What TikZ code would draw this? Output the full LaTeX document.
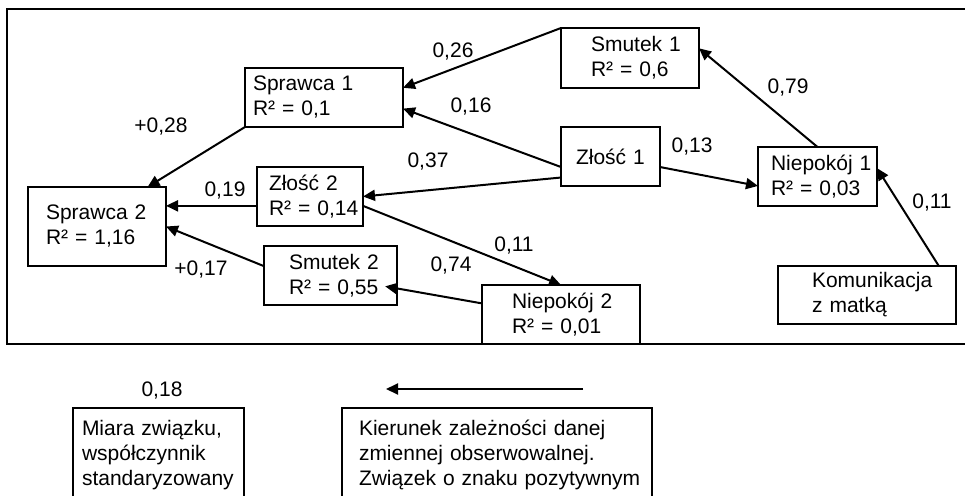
\documentclass[tikz,border=0pt]{standalone}
\usepackage{fontspec}
\setmainfont{Liberation Sans}
\usetikzlibrary{arrows.meta}

\begin{document}
\begin{tikzpicture}[x=1pt, y=-1pt, font=\fontsize{21}{25}\selectfont,
    box/.style={draw, line width=1.2pt, anchor=north west, align=left,
      inner ysep=0pt, outer sep=0pt,
      execute at begin node={\hyphenpenalty=10000\relax}},
    arr/.style={line width=2pt, -{Triangle[length=12pt,width=11pt]}},
    wt/.style={anchor=base, inner sep=0pt}]
        \useasboundingbox (0,0) rectangle (965,495);
        % frame
        \draw[line width=1.3pt] (966,9) -- (7,9) -- (7,344) -- (966,344);
        % variables
        \node [box, text width=142pt, inner xsep=8pt, minimum height=59pt] (spr1) at (245,68) {Sprawca 1\\R²~=~0,1};
        \node [box, text width=102pt, inner xsep=18pt, minimum height=79pt] (spr2) at (28,187) {Sprawca 2\\R²~=~1,16};
        \node [box, text width=82pt, inner xsep=12pt, minimum height=59pt] (zlo2) at (257,167) {Złość~2\\R²~=~0,14};
        \node [box, text width=83pt, inner xsep=25pt, minimum height=59pt] (smu2) at (264,246) {Smutek~2\\R²~=~0,55};
        \node [box, text width=78pt, inner xsep=30pt, minimum height=60pt] (smu1) at (561,28) {Smutek~1\\R²~=~0,6};
        \node [box, text width=69pt, inner xsep=15pt, minimum height=59pt] (zlo1) at (561,127) {Złość~1};
        \node [box, text width=93pt, inner xsep=13pt, minimum height=59pt] (nie1) at (758,147) {Niepokój~1\\R²~=~0,03};
        \node [box, text width=98pt, inner xsep=30pt, minimum height=59pt] (nie2) at (482,285) {Niepokój~2\\R²~=~0,01};
        \node [box, text width=110pt, inner xsep=34pt, minimum height=58pt] (kom) at (778,266) {Komunikacja\\z~matką};
        % paths
        \draw[arr] (smu1.north west) -- (spr1.7);
        \draw[arr] (zlo1.192) -- (spr1.-8);
        \draw[arr] (zlo1.203) -- (zlo2.east);
        \draw[arr] (zlo1.-12) -- (nie1.189);
        \draw[arr] (nie1.north) -- (smu1.8);
        \draw[arr] (kom.22) -- (nie1.8);
        \draw[arr] (zlo2.-10) -- (nie2.north);
        \draw[arr, shorten >=-12pt] (nie2.172) -- (smu2.-11);
        \draw[arr] (spr1.south west) -- (spr2.38);
        \draw[arr] (zlo2.190) -- (zlo2.190 -| spr2.east);
        \draw[arr] (smu2.172) -- (spr2.east);
        % weights
        \node [wt] (w26) at (453,57) {0,26};
        \node [wt] (w16) at (471,112) {0,16};
        \node [wt] (w37) at (428,167) {0,37};
        \node [wt] (w13) at (692,152) {0,13};
        \node [wt] (w79) at (788,93) {0,79};
        \node [wt] (w11a) at (932,208) {0,11};
        \node [wt] (w11b) at (514,251) {0,11};
        \node [wt] (w74) at (451,271) {0,74};
        \node [wt] (w28) at (161,132) {+0,28};
        \node [wt] (w19) at (225,196) {0,19};
        \node [wt] (w17) at (201,275) {+0,17};
        % legend
        \node [wt] (w18) at (162,396) {0,18};
        \coordinate (lgA) at (583,389);
        \coordinate (lgB) at (386,389);
        \draw[arr] (lgA) -- (lgB);
        \node [box, text width=153pt, inner xsep=9pt, inner ysep=11.8pt] (leg1) at (73,408) {Miara związku,\\współczynnik\\standaryzowany};
        \node [box, text width=276pt, inner xsep=17pt, inner ysep=11.8pt] (leg2) at (342,408) {Kierunek~zależności~danej\\zmiennej~obserwowalnej.\\Związek~o~znaku~pozytywnym};
    \end{tikzpicture}
\end{document}
